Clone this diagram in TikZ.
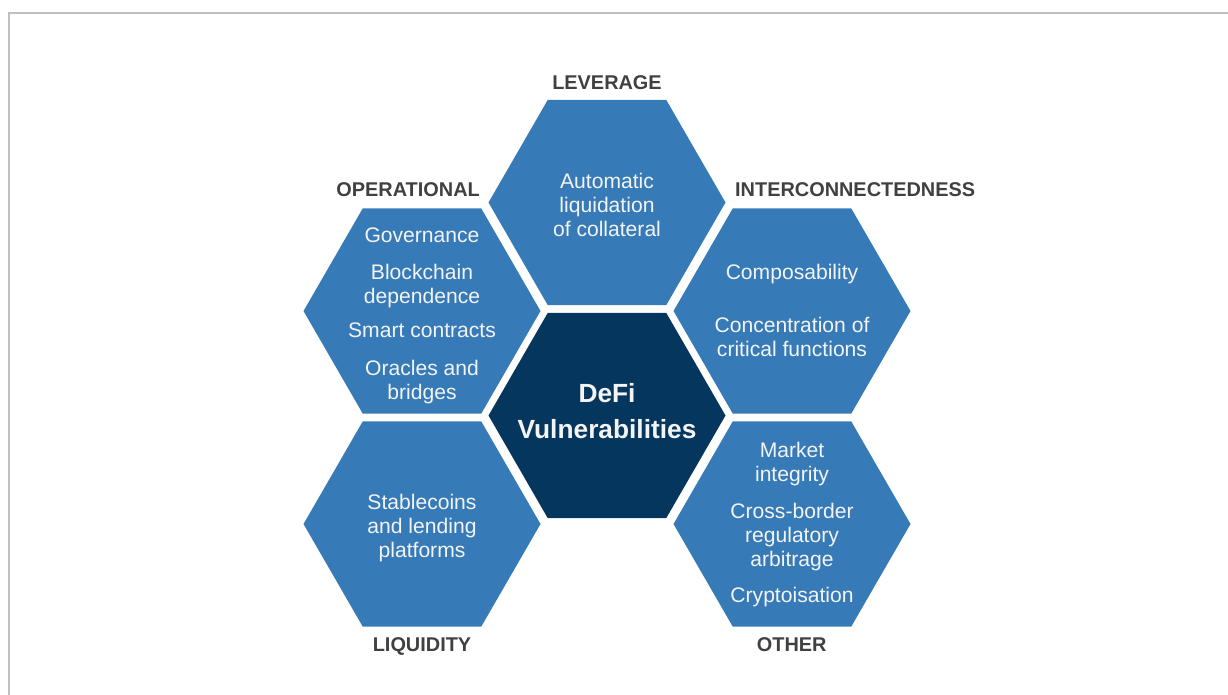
\documentclass[tikz,border=0pt]{standalone}
\usepackage{fontspec}
\setmainfont{Liberation Sans}
\definecolor{hexblue}{HTML}{367AB8}
\definecolor{hexdark}{HTML}{05365E}
\definecolor{labgray}{HTML}{404040}
\definecolor{framegray}{HTML}{C0C0C0}
\definecolor{txtwhite}{HTML}{F4F4F4}
\newcommand\hexcell[4]{% name, x, y, colour
  \fill[#4] (#2+118.5,#3) -- ++(120:118.5) -- ++(180:118.5) -- ++(240:118.5)
    -- ++(300:118.5) -- ++(0:118.5) -- cycle;
  \coordinate (#1) at (#2,#3);}
\begin{document}
\begin{tikzpicture}[x=1pt,y=-1pt,
  txt/.style={text=txtwhite, font=\fontsize{21.1}{24}\selectfont, align=center, inner sep=0pt, anchor=center},
  core/.style={text=txtwhite, font=\bfseries\fontsize{26.3}{36}\selectfont, align=center, inner sep=0pt, anchor=center},
  lab/.style={text=labgray, font=\bfseries\fontsize{19.9}{22}\selectfont, inner sep=0pt}]
\useasboundingbox (0,0) rectangle (1228,695);
\draw[framegray, line width=2pt] (9,695) -- (9,13) -- (1228,13);

\hexcell{hlev}{607}{202.5}{hexblue}
\hexcell{hop}{422}{311}{hexblue}
\hexcell{hic}{792}{311}{hexblue}
\hexcell{hcore}{607}{415.5}{hexdark}
\hexcell{hliq}{422}{524}{hexblue}
\hexcell{hoth}{792}{524}{hexblue}

\node[txt] (tlev) at (607,204.7) {Automatic\\liquidation\\of collateral};
\node[txt] (top) at (422,315.7) {Governance\\[13pt]Blockchain\\dependence\\[10pt]Smart contracts\\[14pt]Oracles and\\bridges};
\node[txt] (tic) at (792,310) {Composability\\[29pt]Concentration of\\critical functions};
\node[core] (tcore) at (607,411.5) {DeFi\\Vulnerabilities};
\node[txt] (tliq) at (422,527.7) {Stablecoins\\and lending\\platforms};
\node[txt] (toth) at (792,524.1) {Market\\integrity\\[13pt]Cross-border\\regulatory\\arbitrage\\[12pt]Cryptoisation};

\node[lab, anchor=base] (llev) at (607,89.3) {LEVERAGE};
\node[lab, anchor=base east] (lop) at (480,196.7) {OPERATIONAL};
\node[lab, anchor=base west] (lic) at (735,196.7) {INTERCONNECTEDNESS};
\node[lab, anchor=base] (lliq) at (422,651) {LIQUIDITY};
\node[lab, anchor=base] (loth) at (791.7,651.7) {OTHER};
\end{tikzpicture}
\end{document}
